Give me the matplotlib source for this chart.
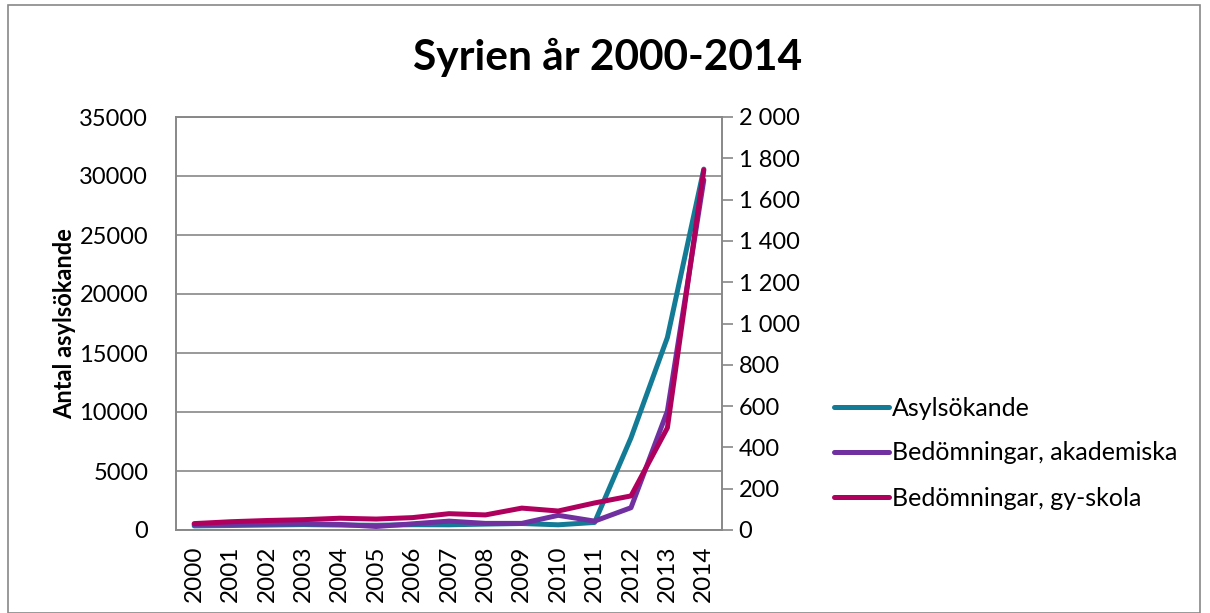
import matplotlib
matplotlib.use("Agg")
import matplotlib.pyplot as plt
from matplotlib.patches import Rectangle
from matplotlib.ticker import FuncFormatter, MultipleLocator

years = [str(y) for y in range(2000, 2015)]
asylsokande = [350, 380, 420, 460, 420, 400, 450, 440, 500, 550, 440, 640, 7814, 16317, 30583]
bed_akademiska = [27, 28, 29, 30, 27, 17, 30, 43, 32, 32, 71, 43, 108, 576, 1695]
bed_gyskola = [31, 40, 46, 50, 57, 53, 60, 79, 73, 106, 92, 131, 165, 495, 1743]

title = "Syrien år 2000-2014"
ylabel = "Antal asylsökande"
labels = ["Asylsökande", "Bedömningar, akademiska", "Bedömningar, gy-skola"]
colors = ["#137b95", "#7030a0", "#b0005e"]

plt.rcParams['font.family'] = ['Lato', 'DejaVu Sans']

W, H = 1210, 613
fig = plt.figure(figsize=(W / 100, H / 100), dpi=100)
fig.patches.append(Rectangle((8 / W, 0), (1200 - 8) / W, (H - 5) / H, transform=fig.transFigure,
                             fill=False, edgecolor="#888888", linewidth=1.2))

left, right, top, bottom = 176, 722, 117, 530
ax = fig.add_axes([left / W, 1 - bottom / H, (right - left) / W, (bottom - top) / H])
ax2 = ax.twinx()

x = list(range(len(years)))
lw = 3.6
l1, = ax.plot(x, asylsokande, color=colors[0], lw=lw, solid_capstyle='round', zorder=3)
l2, = ax2.plot(x, bed_akademiska, color=colors[1], lw=lw, solid_capstyle='round', zorder=3)
l3, = ax2.plot(x, bed_gyskola, color=colors[2], lw=lw, solid_capstyle='round', zorder=4)

ax.set_xlim(-0.5, len(years) - 0.5)
ax.set_ylim(0, 35000)
ax.yaxis.set_major_locator(MultipleLocator(5000))
ax2.set_ylim(0, 2000)
ax2.yaxis.set_major_locator(MultipleLocator(200))
ax2.yaxis.set_major_formatter(FuncFormatter(lambda v, p: f"{int(v):,}".replace(",", " ")))

ax.set_xticks(x)
ax.set_xticklabels(years, rotation=90, fontsize=17.5)
ax.tick_params(axis='x', length=0, pad=11)
ax.tick_params(axis='y', length=0, labelsize=17, pad=20)
ax2.tick_params(axis='y', length=8, width=1.2, color="#888888", labelsize=17, pad=4)

ax.grid(axis='y', color="#888888", lw=1.2)
ax.set_axisbelow(True)
for a in (ax, ax2):
    for s in a.spines.values():
        s.set_color("#888888")
        s.set_linewidth(1.2)

ax.set_ylabel(ylabel, fontsize=17, fontweight='bold', labelpad=2)
fig.text(608 / W, 1 - 57 / H, title, ha='center', va='center', fontsize=30.5, fontweight='bold')

fig.legend([l1, l2, l3], labels, loc='center left', bbox_to_anchor=(811 / W, 1 - 453 / H),
           frameon=False, fontsize=18, handlelength=2.2, handletextpad=0.15, labelspacing=0.88)

fig.savefig("out.png", dpi=100)
